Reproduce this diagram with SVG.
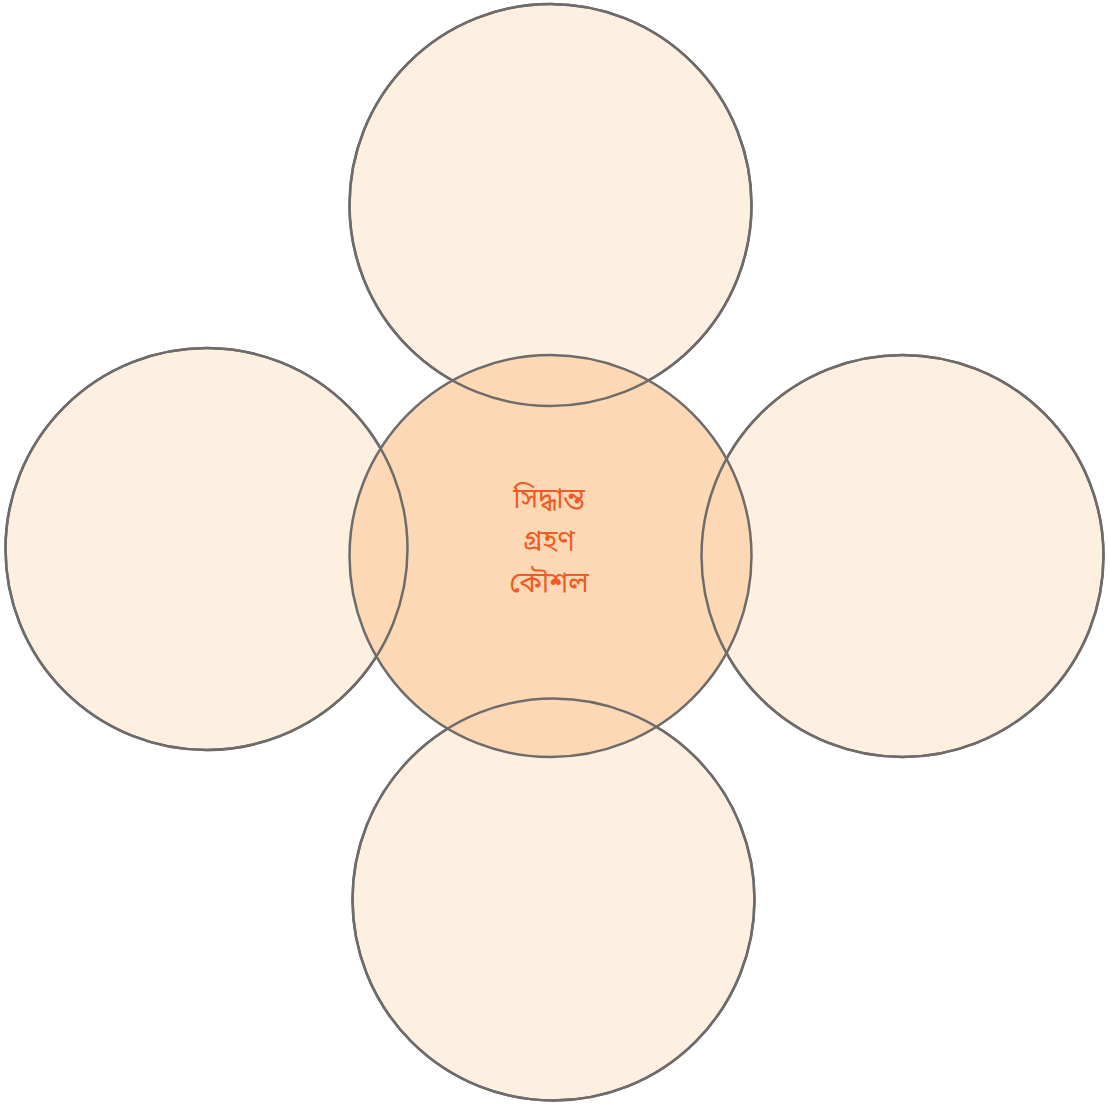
<svg xmlns="http://www.w3.org/2000/svg" width="1110" height="1104" viewBox="0 0 1110 1104">
  <style>
    .outer { fill: #FDF0E1; stroke: #6E6B6B; stroke-width: 2.5; }
    .center { fill: #FCD9B4; stroke: #6E6B6B; stroke-width: 2.5; }
    .outline { fill: none; stroke: #6E6B6B; stroke-width: 2.5; }
    .label { font-family: "Noto Sans Bengali", "Lohit Bengali", "Noto Sans", "DejaVu Sans", sans-serif; font-size: 28px; fill: #F05A24; text-anchor: middle; }
  </style>
  <rect width="1110" height="1104" fill="#FFFFFF"/>
  <g id="node-top"><circle class="outer" cx="550.5" cy="205" r="201"/></g>
  <g id="node-left"><circle class="outer" cx="206.5" cy="549" r="201"/></g>
  <g id="node-right"><circle class="outer" cx="902.5" cy="556" r="201"/></g>
  <g id="node-bottom"><circle class="outer" cx="553.5" cy="899.5" r="201"/></g>
  <g id="node-center">
    <circle class="center" cx="550.5" cy="556" r="201"/>
  </g>
  <g id="outer-outlines">
    <circle class="outline" cx="550.5" cy="205" r="201"/>
    <circle class="outline" cx="206.5" cy="549" r="201"/>
    <circle class="outline" cx="902.5" cy="556" r="201"/>
    <circle class="outline" cx="553.5" cy="899.5" r="201"/>
  </g>
  <g id="center-label">
    <text class="label" x="549" y="508">সিদ্ধান্ত</text>
    <text class="label" x="549" y="550">গ্রহণ</text>
    <text class="label" x="549" y="592">কৌশল</text>
  </g>
</svg>
